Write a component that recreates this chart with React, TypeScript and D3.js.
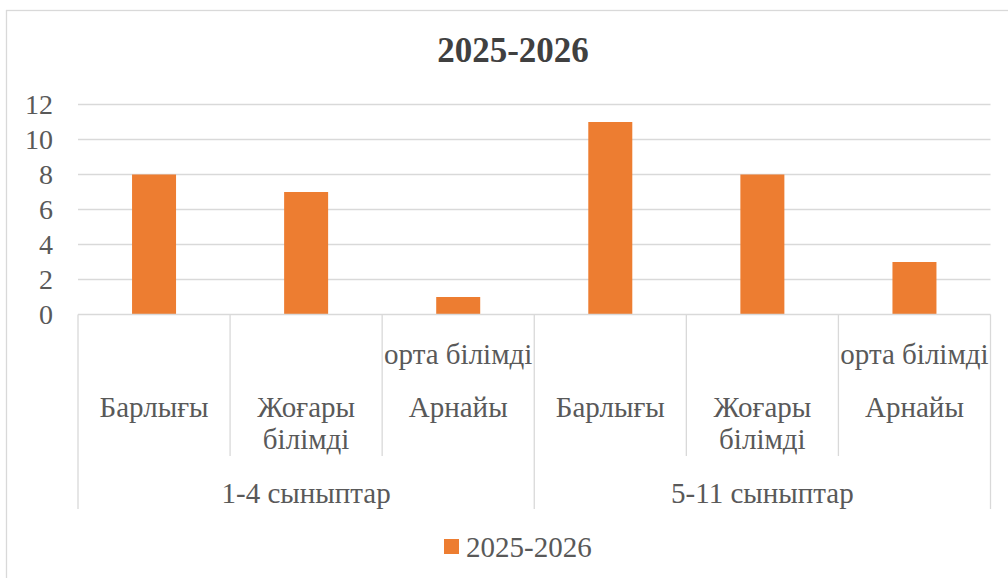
import React from "react";
import * as d3 from "d3";

const title = "2025-2026";
const seriesName = "2025-2026";
const groups = ["1-4 сыныптар", "5-11 сыныптар"];
const subCategories = ["Барлығы", "Жоғары білімді", "Арнайы орта білімді"];
const values = [8, 7, 1, 11, 8, 3];
const yTicks = [0, 2, 4, 6, 8, 10, 12];

const W = 1008;
const H = 578;
const FONT = "Liberation Serif";
const TEXT = "#595959";
const GRID = "#D9D9D9";
const BAR = "#ED7D31";

function labelLines(label: string): { t: string; y: number }[] {
  if (label.startsWith("Арнайы")) {
    return [
      { t: "орта білімді", y: 354 },
      { t: "Арнайы", y: 407 },
    ];
  }
  const parts = label.split(" ");
  if (parts.length === 2) {
    return [
      { t: parts[0], y: 407 },
      { t: parts[1], y: 439 },
    ];
  }
  return [{ t: label, y: 407 }];
}

export default function App() {
  const left = 78;
  const right = 990.5;
  const top = 104.5;
  const bottom = 314.5;

  const cats = groups.flatMap((g, gi) => subCategories.map((s, si) => `${gi}-${si}`));
  const x = d3.scaleBand<string>().domain(cats).range([left, right]).paddingInner(0).paddingOuter(0);
  const y = d3.scaleLinear().domain([0, 12]).range([bottom, top]);
  const barW = 44;
  const bw = x.bandwidth();
  const fs = 29;

  return (
    <svg width={W} height={H} style={{ position: "absolute", left: 0, top: 0, background: "#fff" }}>
      <rect x={0} y={0} width={W} height={H} fill="#fff" />
      <rect x={6.5} y={10.5} width={W + 20} height={H + 20} fill="none" stroke={GRID} strokeWidth={1.3} />
      <text x={513} y={50} textAnchor="middle" dominantBaseline="central" fontFamily={FONT} fontSize={35} fontWeight="bold" fill="#404040">
        {title}
      </text>

      {yTicks.map((t) => (
        <g key={t}>
          {t > 0 && <line x1={left} x2={right} y1={y(t)} y2={y(t)} stroke={GRID} strokeWidth={1.3} />}
          <text x={53} y={y(t)} textAnchor="end" dominantBaseline="central" fontFamily={FONT} fontSize={28} fill={TEXT}>
            {t}
          </text>
        </g>
      ))}

      {values.map((v, i) => {
        const c = cats[i];
        const cx = (x(c) as number) + bw / 2;
        return <rect key={c} x={cx - barW / 2} y={y(v)} width={barW} height={y(0) - y(v)} fill={BAR} />;
      })}

      <line x1={left} x2={right} y1={bottom} y2={bottom} stroke={GRID} strokeWidth={1.5} />

      {cats.map((c, i) => {
        const x0 = x(c) as number;
        const isOuter = i % subCategories.length === 0;
        return <line key={"sep" + c} x1={x0} x2={x0} y1={bottom} y2={isOuter ? 509 : 456} stroke={GRID} strokeWidth={1.3} />;
      })}
      <line x1={right} x2={right} y1={bottom} y2={509} stroke={GRID} strokeWidth={1.3} />

      {cats.map((c, i) => {
        const cx = (x(c) as number) + bw / 2;
        const label = subCategories[i % subCategories.length];
        return (
          <g key={"lab" + c}>
            {labelLines(label).map((l) => (
              <text key={l.t} x={cx} y={l.y} textAnchor="middle" dominantBaseline="central" fontFamily={FONT} fontSize={fs} fill={TEXT}>
                {l.t}
              </text>
            ))}
          </g>
        );
      })}

      {groups.map((g, gi) => {
        const first = x(cats[gi * subCategories.length]) as number;
        const last = (x(cats[gi * subCategories.length + subCategories.length - 1]) as number) + bw;
        return (
          <text key={g} x={(first + last) / 2} y={493} textAnchor="middle" dominantBaseline="central" fontFamily={FONT} fontSize={fs} fill={TEXT}>
            {g}
          </text>
        );
      })}

      <rect x={444} y={539} width={15} height={15} fill={BAR} />
      <text x={466} y={546.5} dominantBaseline="central" fontFamily={FONT} fontSize={fs} fill={TEXT}>
        {seriesName}
      </text>
    </svg>
  );
}
